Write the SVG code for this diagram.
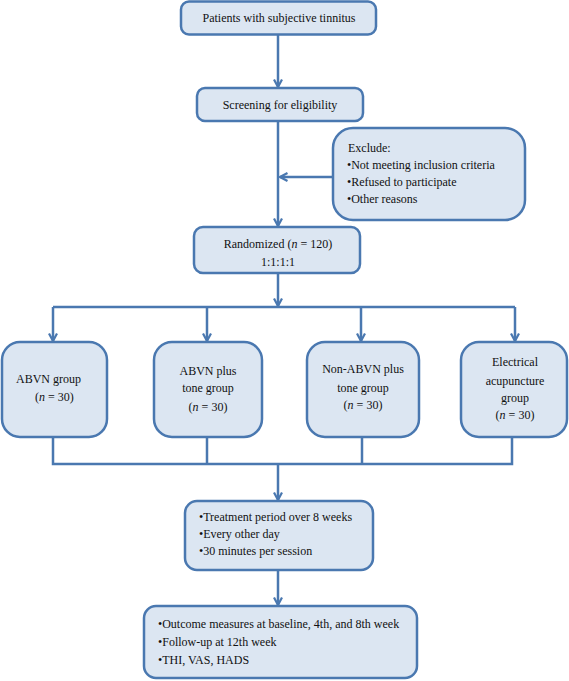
<svg xmlns="http://www.w3.org/2000/svg" width="569" height="681" viewBox="0 0 569 681">
<style>
.box{fill:#dce6f2;stroke:#4a78b0;stroke-width:2.5}
.ln{fill:none;stroke:#4a78b0;stroke-width:2.5}
text{font-family:'Liberation Serif','Times New Roman',serif;font-size:12px;fill:#111}
.c{text-anchor:middle}
.i{font-style:italic}
</style>
<defs>
<marker id="arr" viewBox="0 0 10 10" refX="9" refY="5" markerWidth="10" markerHeight="10" markerUnits="userSpaceOnUse" orient="auto">
<path d="M1.5,1 L9,5 L1.5,9" fill="none" stroke="#4a78b0" stroke-width="2.2"/>
</marker>
</defs>
<rect width="569" height="681" fill="#fff"/>
<g id="connectors">
<path class="ln" d="M278,35 V87" marker-end="url(#arr)"/>
<path class="ln" d="M278,121 V226" marker-end="url(#arr)"/>
<path class="ln" d="M333,177 H280" marker-end="url(#arr)"/>
<path class="ln" d="M278,273 V306" marker-end="url(#arr)"/>
<path class="ln" d="M53,307 H515"/>
<path class="ln" d="M53,307 V341" marker-end="url(#arr)"/>
<path class="ln" d="M207,307 V341" marker-end="url(#arr)"/>
<path class="ln" d="M361,307 V341" marker-end="url(#arr)"/>
<path class="ln" d="M515,307 V341" marker-end="url(#arr)"/>
<path class="ln" d="M53,437 V464 H512 V437"/>
<path class="ln" d="M207,437 V464"/>
<path class="ln" d="M362,437 V464"/>
<path class="ln" d="M278,464 V500" marker-end="url(#arr)"/>
<path class="ln" d="M278,570 V605" marker-end="url(#arr)"/>
</g>
<g id="patients">
<rect class="box" x="181" y="1.5" width="195" height="33" rx="8"/>
<text class="c" x="279" y="22">Patients with subjective tinnitus</text>
</g>
<g id="screening">
<rect class="box" x="197" y="88" width="166" height="33" rx="8"/>
<text class="c" x="280" y="109">Screening for eligibility</text>
</g>
<g id="exclude">
<rect class="box" x="333" y="128" width="192" height="92" rx="20"/>
<text x="348" y="152">Exclude:</text>
<text x="347" y="169">•Not meeting inclusion criteria</text>
<text x="347" y="186">•Refused to participate</text>
<text x="347" y="203">•Other reasons</text>
</g>
<g id="randomized">
<rect class="box" x="194" y="227" width="166" height="46" rx="9"/>
<text class="c" x="278" y="248">Randomized (<tspan class="i">n</tspan> = 120)</text>
<text class="c" x="278" y="266">1:1:1:1</text>
</g>
<g id="abvn">
<rect class="box" x="2" y="342" width="105" height="95" rx="18"/>
<text x="16" y="383">ABVN group</text>
<text x="35" y="401">(<tspan class="i">n</tspan> = 30)</text>
</g>
<g id="abvn-tone">
<rect class="box" x="154" y="342" width="108" height="95" rx="18"/>
<text class="c" x="208" y="375">ABVN plus</text>
<text class="c" x="208" y="392">tone group</text>
<text class="c" x="208" y="411">(<tspan class="i">n</tspan> = 30)</text>
</g>
<g id="non-abvn-tone">
<rect class="box" x="307" y="342" width="112" height="95" rx="18"/>
<text class="c" x="363" y="373">Non-ABVN plus</text>
<text class="c" x="363" y="392">tone group</text>
<text class="c" x="363" y="409">(<tspan class="i">n</tspan> = 30)</text>
</g>
<g id="electrical">
<rect class="box" x="461" y="342" width="106" height="95" rx="18"/>
<text class="c" x="515" y="366">Electrical</text>
<text class="c" x="515" y="385">acupuncture</text>
<text class="c" x="515" y="402">group</text>
<text class="c" x="515" y="419">(<tspan class="i">n</tspan> = 30)</text>
</g>
<g id="treatment">
<rect class="box" x="185" y="501" width="188" height="69" rx="12"/>
<text x="199" y="521">•Treatment period over 8 weeks</text>
<text x="199" y="538">•Every other day</text>
<text x="199" y="555">•30 minutes per session</text>
</g>
<g id="outcome">
<rect class="box" x="144" y="606" width="273" height="72" rx="12"/>
<text x="158" y="628">•Outcome measures at baseline, 4th, and 8th week</text>
<text x="158" y="646">•Follow-up at 12th week</text>
<text x="158" y="664">•THI, VAS, HADS</text>
</g>
</svg>
